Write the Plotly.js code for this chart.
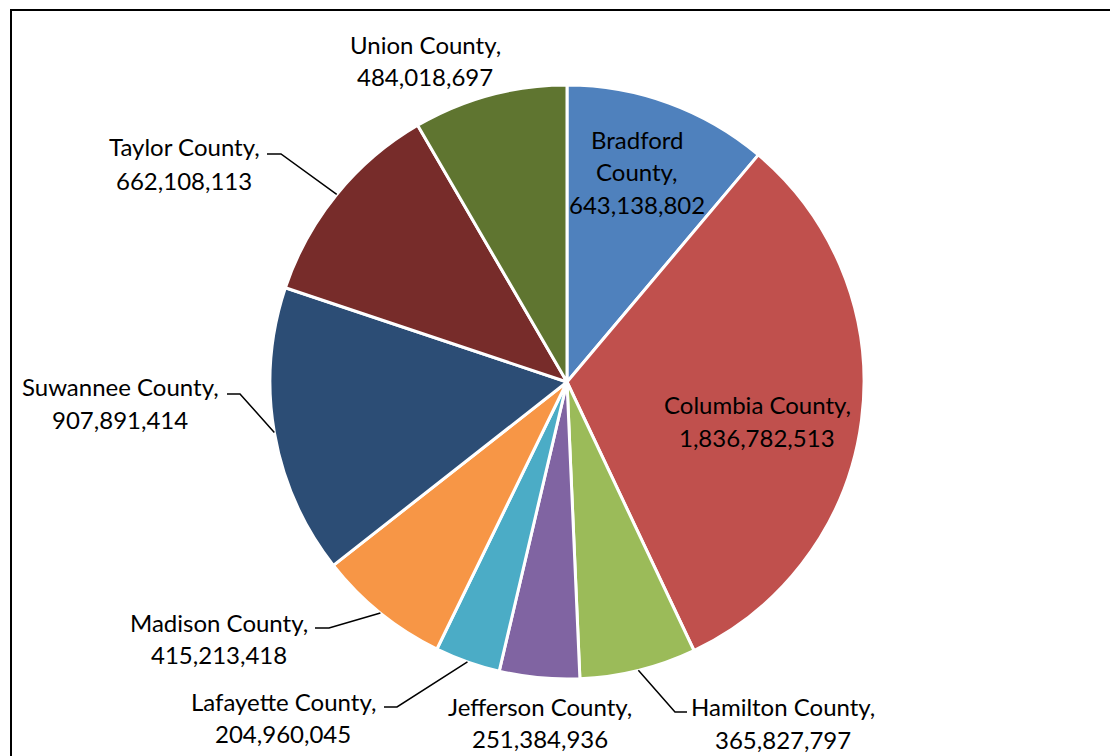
<!DOCTYPE html>
<html>
<head>
<meta charset="utf-8">
<script src="https://cdn.plot.ly/plotly-3.0.1.min.js"></script>
<style>
  html, body { margin: 0; padding: 0; background: #fff; overflow: hidden; }
  #chart { width: 1110px; height: 756px; }
  #frame { position: absolute; left: 10px; top: 9px; width: 1200px; height: 800px;
           border: 2px solid #000; pointer-events: none; box-sizing: border-box; }
</style>
</head>
<body>
<div id="chart"></div>
<div id="frame"></div>
<script>
// ---- data ----
const labels = ['Bradford County', 'Columbia County', 'Hamilton County', 'Jefferson County',
                'Lafayette County', 'Madison County', 'Suwannee County', 'Taylor County', 'Union County'];
const values = [643138802, 1836782513, 365827797, 251384936, 204960045, 415213418, 907891414, 662108113, 484018697];
const colors = ['#4F81BD', '#C0504D', '#9BBB59', '#8064A2', '#4BACC6', '#F79646', '#2C4D75', '#772C2A', '#5F7530'];

// ---- layout geometry (pixels) ----
const L = 270, T = 85, S = 594;
const CX = L + S / 2, CY = T + S / 2, R = S / 2;
const px = x => (x - L) / S;
const py = y => 1 - (y - T) / S;

// label text-line centers (style), per slice index
const labelLines = {
  0: [[637, 139], [637, 172], [637, 204]],
  1: [[757, 404], [757, 437]],
  2: [[783, 706], [783, 739]],
  3: [[540, 706], [540, 738]],
  4: [[283, 701], [283, 733]],
  5: [[219, 622], [219, 654]],
  6: [[120, 386], [120, 419]],
  7: [[184, 147], [184, 180]],
  8: [[425, 44], [425, 76]]
};
// leader line start + elbow (style); end computed from slice angle
const leaders = {
  2: [[687, 712], [675, 712]],
  4: [[384, 707], [397, 707]],
  5: [[315, 628], [329, 628]],
  6: [[227, 394], [240, 394]],
  7: [[267, 154], [281, 154]]
};

const fmt = v => v.toLocaleString('en-US');
const total = values.reduce((a, b) => a + b, 0);

const annotations = [];
const shapes = [];
let cum = 0;
values.forEach((v, i) => {
  const mid = 2 * Math.PI * (cum + v / 2) / total;
  cum += v;
  let lines;
  if (i === 0) {
    const parts = labels[i].split(' ');
    lines = [parts[0], parts[1] + ',', fmt(v)];
  } else {
    lines = [labels[i] + ',', fmt(v)];
  }
  lines.forEach((t, k) => {
    const p = labelLines[i][k];
    annotations.push({
      x: px(p[0]), y: py(p[1]), xref: 'paper', yref: 'paper',
      text: t, showarrow: false, xanchor: 'center', yanchor: 'middle',
      font: { family: 'Lato, "Open Sans", sans-serif', size: 24, color: '#000' }
    });
  });
  if (leaders[i]) {
    const ex = CX + R * Math.sin(mid);
    const ey = CY - R * Math.cos(mid);
    const a = leaders[i][0], b = leaders[i][1];
    shapes.push({
      type: 'path', xref: 'paper', yref: 'paper',
      path: `M ${px(a[0])} ${py(a[1])} L ${px(b[0])} ${py(b[1])} L ${px(ex)} ${py(ey)}`,
      line: { color: '#000', width: 1.5 }
    });
  }
});

const trace = {
  type: 'pie',
  labels: labels,
  values: values,
  sort: false,
  direction: 'clockwise',
  rotation: 0,
  textinfo: 'none',
  hoverinfo: 'label+value',
  marker: { colors: colors, line: { color: '#fff', width: 3 } },
  automargin: false
};

const layout = {
  width: 1110, height: 756,
  margin: { l: L, r: 1110 - L - S, t: T, b: 756 - T - S, pad: 0 },
  showlegend: false,
  paper_bgcolor: '#fff',
  annotations: annotations,
  shapes: shapes
};

Plotly.newPlot('chart', [trace], layout, { displayModeBar: false, staticPlot: true });
</script>
</body>
</html>
